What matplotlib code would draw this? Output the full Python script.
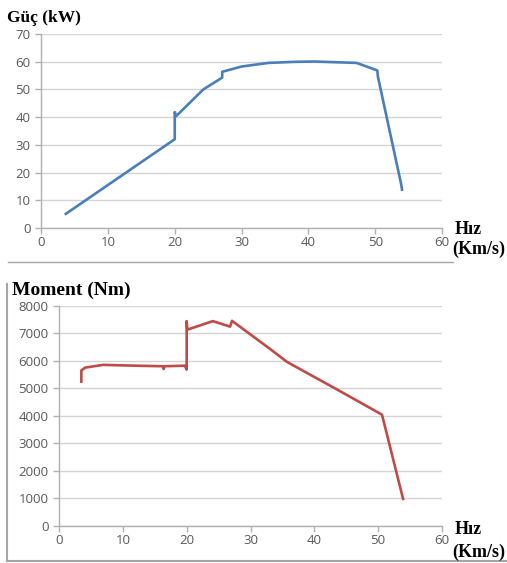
import matplotlib
matplotlib.use('Agg')
import matplotlib.pyplot as plt
from matplotlib.lines import Line2D

# power curve (kW) vs speed
speed_p = [3.7, 20.0, 20.0, 20.2, 24.3, 27.1, 27.1, 30.0, 34.0, 38.0, 41.0, 47.2, 50.3, 50.4, 53.9, 54.0]
power = [5.1, 32.0, 41.8, 40.3, 50.0, 54.2, 56.3, 58.2, 59.5, 59.9, 60.0, 59.5, 56.8, 54.5, 15.5, 13.8]

# torque curve (Nm) vs speed
speed_m = [3.5, 3.5, 4.1, 6.9, 12.0, 16.3, 16.4, 16.5, 19.7, 20.0, 20.0, 20.1, 24.1, 26.8, 27.1, 33.0, 35.7, 43.6, 50.6, 53.9]
moment = [5240, 5650, 5750, 5850, 5820, 5800, 5700, 5800, 5820, 5680, 7440, 7130, 7440, 7240, 7450, 6440, 5960, 4950, 4040, 980]

x_ticks = [0, 10, 20, 30, 40, 50, 60]
p_ticks = [0, 10, 20, 30, 40, 50, 60, 70]
m_ticks = [0, 1000, 2000, 3000, 4000, 5000, 6000, 7000, 8000]

grid_c = '#d4d4d4'
tick_c = '#595959'
title_font = dict(family='Liberation Serif', fontweight='bold', color='black')

fig = plt.figure(figsize=(5.07, 5.63), dpi=100)


def style(ax, yticks):
    ax.set_xlim(0, 60)
    ax.set_ylim(yticks[0], yticks[-1])
    ax.set_xticks(x_ticks)
    ax.set_yticks(yticks)
    for s in ['top', 'right']:
        ax.spines[s].set_visible(False)
    for s in ['left', 'bottom']:
        ax.spines[s].set_color('#b0b0b0')
        ax.spines[s].set_linewidth(1.0)
    ax.yaxis.grid(True, color=grid_c, linewidth=1.0)
    ax.set_axisbelow(True)
    ax.tick_params(axis='both', colors='#b0b0b0', labelcolor=tick_c,
                   labelsize=9.5, length=4, width=1.0, direction='out')
    ax.tick_params(axis='x', pad=2)
    for lab in ax.get_xticklabels() + ax.get_yticklabels():
        lab.set_family('Open Sans')


ax1 = fig.add_axes([0.081, 0.595, 0.791, 0.345])
style(ax1, p_ticks)
ax1.plot(speed_p, power, color='#4a7ebb', linewidth=1.9, solid_joinstyle='round')

ax2 = fig.add_axes([0.1164, 0.066, 0.7554, 0.391])
style(ax2, m_ticks)
ax2.plot(speed_m, moment, color='#be4b48', linewidth=1.9, solid_joinstyle='round')

# titles and axis names
fig.text(7 / 507, 1 - 18 / 563, 'Güç (kW)', fontsize=12.5, va='center', ha='left', **title_font)
fig.text(12 / 507, 1 - 290 / 563, 'Moment (Nm)', fontsize=14, va='center', ha='left', **title_font)
for y_h, y_u in ((229, 249), (529, 552)):
    fig.text(455 / 507, 1 - y_h / 563, 'Hız', fontsize=13, va='center', ha='left', **title_font)
    fig.text(452 / 507, 1 - y_u / 563, '(Km/s)', fontsize=13, va='center', ha='left', **title_font)

# chart frames
frame_c = '#a6a6a6'
fig.add_artist(Line2D([8 / 507, 453 / 507], [1 - 262 / 563] * 2, color=frame_c, lw=1.0))
fig.add_artist(Line2D([7 / 507] * 2, [1 - 284 / 563, 1 - 561 / 563], color=frame_c, lw=1.5))
fig.add_artist(Line2D([7 / 507, 1.0], [1 - 561 / 563] * 2, color=frame_c, lw=1.5))

fig.savefig('out.png', dpi=100)
